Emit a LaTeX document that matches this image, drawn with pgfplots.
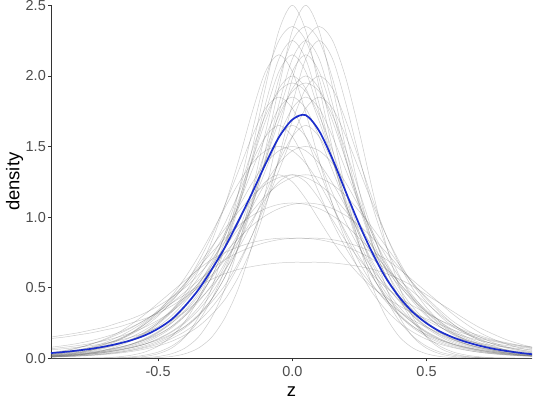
\documentclass[border=0pt]{standalone}
\usepackage{fontspec}
\setmainfont{Liberation Sans}
\usepackage{pgfplots}
\usepackage{pgfplotstable}
\pgfplotsset{compat=1.18}
\definecolor{meanblue}{RGB}{28,46,204}

\pgfplotstableread{
name p0 p1 p2 p3 p4 p5 p6 p7 p8 p9 p10 p11 p12 p13 p14 p15 p16 p17 p18 p19 p20 p21 p22 p23 p24 p25 p26 p27 p28 p29 p30 p31 p32 p33 p34 p35 p36
x -0.90 -0.85 -0.80 -0.75 -0.70 -0.65 -0.60 -0.55 -0.50 -0.45 -0.40 -0.35 -0.30 -0.25 -0.20 -0.15 -0.10 -0.05 0.00 0.05 0.10 0.15 0.20 0.25 0.30 0.35 0.40 0.45 0.50 0.55 0.60 0.65 0.70 0.75 0.80 0.85 0.90
c1 0.013 0.017 0.023 0.031 0.042 0.058 0.08 0.11 0.155 0.215 0.30 0.42 0.58 0.80 1.10 1.48 1.92 2.32 2.50 2.32 1.92 1.48 1.10 0.80 0.58 0.42 0.30 0.215 0.155 0.11 0.08 0.058 0.042 0.031 0.023 0.017 0.013
c2 0.01 0.013 0.017 0.023 0.031 0.042 0.058 0.08 0.11 0.155 0.215 0.30 0.42 0.58 0.80 1.10 1.48 1.92 2.32 2.50 2.32 1.92 1.48 1.10 0.80 0.58 0.42 0.30 0.215 0.155 0.11 0.08 0.058 0.042 0.031 0.023 0.017
c3 0 0 0 0 0 0.001 0.002 0.005 0.013 0.032 0.072 0.15 0.29 0.50 0.80 1.18 1.60 1.98 2.25 2.35 2.25 1.98 1.60 1.18 0.80 0.50 0.29 0.15 0.072 0.032 0.013 0.005 0.002 0.001 0 0 0
c4 0 0 0 0 0.001 0.002 0.005 0.013 0.032 0.072 0.15 0.29 0.50 0.80 1.18 1.60 1.98 2.25 2.35 2.25 1.98 1.60 1.18 0.80 0.50 0.29 0.15 0.072 0.032 0.013 0.005 0.002 0.001 0 0 0 0
c5 0.015 0.02 0.027 0.036 0.048 0.065 0.088 0.12 0.165 0.225 0.31 0.42 0.58 0.79 1.07 1.42 1.80 2.12 2.25 2.12 1.80 1.42 1.07 0.79 0.58 0.42 0.31 0.225 0.165 0.12 0.088 0.065 0.048 0.036 0.027 0.02 0.015
c6 0.011 0.015 0.02 0.027 0.036 0.048 0.065 0.088 0.12 0.165 0.225 0.31 0.42 0.58 0.79 1.07 1.42 1.80 2.12 2.25 2.12 1.80 1.42 1.07 0.79 0.58 0.42 0.31 0.225 0.165 0.12 0.088 0.065 0.048 0.036 0.027 0.02
c7 0.008 0.011 0.015 0.02 0.027 0.036 0.048 0.065 0.088 0.12 0.165 0.225 0.31 0.42 0.58 0.79 1.07 1.42 1.80 2.12 2.25 2.12 1.80 1.42 1.07 0.79 0.58 0.42 0.31 0.225 0.165 0.12 0.088 0.065 0.048 0.036 0.027
c8 0.025 0.032 0.042 0.056 0.075 0.10 0.135 0.185 0.25 0.34 0.46 0.62 0.83 1.09 1.40 1.74 2.03 2.15 2.03 1.74 1.40 1.09 0.83 0.62 0.46 0.34 0.25 0.185 0.135 0.10 0.075 0.056 0.042 0.032 0.025 0.019 0.015
c9 0.015 0.019 0.025 0.032 0.042 0.056 0.075 0.10 0.135 0.185 0.25 0.34 0.46 0.62 0.83 1.09 1.40 1.74 2.03 2.15 2.03 1.74 1.40 1.09 0.83 0.62 0.46 0.34 0.25 0.185 0.135 0.10 0.075 0.056 0.042 0.032 0.025
c10 0.019 0.025 0.032 0.042 0.056 0.075 0.10 0.135 0.185 0.25 0.34 0.46 0.62 0.83 1.09 1.40 1.74 2.03 2.15 2.03 1.74 1.40 1.09 0.83 0.62 0.46 0.34 0.25 0.185 0.135 0.10 0.075 0.056 0.042 0.032 0.025 0.019
c11 0.013 0.017 0.023 0.031 0.041 0.055 0.074 0.10 0.14 0.19 0.26 0.36 0.49 0.66 0.87 1.12 1.40 1.68 1.91 2.00 1.91 1.68 1.40 1.12 0.87 0.66 0.49 0.36 0.26 0.19 0.14 0.10 0.074 0.055 0.041 0.031 0.023
c12 0.017 0.023 0.031 0.041 0.055 0.074 0.10 0.14 0.19 0.26 0.36 0.49 0.66 0.87 1.12 1.40 1.68 1.91 2.00 1.91 1.68 1.40 1.12 0.87 0.66 0.49 0.36 0.26 0.19 0.14 0.10 0.074 0.055 0.041 0.031 0.023 0.017
c13 0.01 0.013 0.017 0.023 0.031 0.041 0.055 0.074 0.10 0.14 0.19 0.26 0.36 0.49 0.66 0.87 1.12 1.40 1.68 1.91 2.00 1.91 1.68 1.40 1.12 0.87 0.66 0.49 0.36 0.26 0.19 0.14 0.10 0.074 0.055 0.041 0.031
c14 0 0 0 0.001 0.002 0.004 0.01 0.022 0.044 0.086 0.155 0.26 0.42 0.63 0.89 1.18 1.47 1.72 1.89 1.95 1.89 1.72 1.47 1.18 0.89 0.63 0.42 0.26 0.155 0.086 0.044 0.022 0.01 0.004 0.002 0.001 0
c15 0 0 0.001 0.002 0.004 0.01 0.022 0.044 0.086 0.155 0.26 0.42 0.63 0.89 1.18 1.47 1.72 1.89 1.95 1.89 1.72 1.47 1.18 0.89 0.63 0.42 0.26 0.155 0.086 0.044 0.022 0.01 0.004 0.002 0.001 0 0
c16 0.029 0.037 0.047 0.06 0.077 0.10 0.13 0.17 0.225 0.30 0.40 0.52 0.68 0.87 1.09 1.33 1.57 1.77 1.85 1.77 1.57 1.33 1.09 0.87 0.68 0.52 0.40 0.30 0.225 0.17 0.13 0.10 0.077 0.06 0.047 0.037 0.029
c17 0.023 0.029 0.037 0.047 0.06 0.077 0.10 0.13 0.17 0.225 0.30 0.40 0.52 0.68 0.87 1.09 1.33 1.57 1.77 1.85 1.77 1.57 1.33 1.09 0.87 0.68 0.52 0.40 0.30 0.225 0.17 0.13 0.10 0.077 0.06 0.047 0.037
c18 0.037 0.047 0.06 0.077 0.10 0.13 0.17 0.225 0.30 0.40 0.52 0.68 0.87 1.09 1.33 1.57 1.77 1.85 1.77 1.57 1.33 1.09 0.87 0.68 0.52 0.40 0.30 0.225 0.17 0.13 0.10 0.077 0.06 0.047 0.037 0.029 0.023
c19 0.018 0.023 0.029 0.037 0.047 0.06 0.077 0.10 0.13 0.17 0.225 0.30 0.40 0.52 0.68 0.87 1.09 1.33 1.57 1.77 1.85 1.77 1.57 1.33 1.09 0.87 0.68 0.52 0.40 0.30 0.225 0.17 0.13 0.10 0.077 0.06 0.047
c20 0.06 0.068 0.078 0.09 0.105 0.125 0.15 0.18 0.22 0.27 0.33 0.41 0.51 0.63 0.78 0.96 1.17 1.39 1.57 1.65 1.57 1.39 1.17 0.96 0.78 0.63 0.51 0.41 0.33 0.27 0.22 0.18 0.15 0.125 0.105 0.09 0.078
c21 0.068 0.078 0.09 0.105 0.125 0.15 0.18 0.22 0.27 0.33 0.41 0.51 0.63 0.78 0.96 1.17 1.39 1.57 1.65 1.57 1.39 1.17 0.96 0.78 0.63 0.51 0.41 0.33 0.27 0.22 0.18 0.15 0.125 0.105 0.09 0.078 0.068
c22 0.015 0.02 0.027 0.037 0.05 0.07 0.095 0.13 0.18 0.25 0.33 0.44 0.57 0.72 0.89 1.07 1.24 1.38 1.47 1.50 1.47 1.38 1.24 1.07 0.89 0.72 0.57 0.44 0.33 0.25 0.18 0.13 0.095 0.07 0.05 0.037 0.027
c23 0.02 0.027 0.037 0.05 0.07 0.095 0.13 0.18 0.25 0.33 0.44 0.57 0.72 0.89 1.07 1.24 1.38 1.47 1.50 1.47 1.38 1.24 1.07 0.89 0.72 0.57 0.44 0.33 0.25 0.18 0.13 0.095 0.07 0.05 0.037 0.027 0.02
c24 0.009 0.014 0.023 0.037 0.057 0.086 0.124 0.175 0.24 0.325 0.42 0.53 0.66 0.79 0.92 1.04 1.15 1.23 1.28 1.30 1.28 1.23 1.15 1.04 0.92 0.79 0.66 0.53 0.42 0.325 0.24 0.175 0.124 0.086 0.057 0.037 0.023
c25 0.014 0.023 0.037 0.057 0.086 0.124 0.175 0.24 0.325 0.42 0.53 0.66 0.79 0.92 1.04 1.15 1.23 1.28 1.30 1.28 1.23 1.15 1.04 0.92 0.79 0.66 0.53 0.42 0.325 0.24 0.175 0.124 0.086 0.057 0.037 0.023 0.014
c26 0.14 0.15 0.165 0.18 0.20 0.22 0.25 0.28 0.32 0.37 0.43 0.50 0.59 0.70 0.83 0.98 1.13 1.25 1.30 1.25 1.13 0.98 0.83 0.70 0.59 0.50 0.43 0.37 0.32 0.27 0.23 0.19 0.16 0.13 0.11 0.09 0.075
c27 0.022 0.03 0.042 0.058 0.08 0.11 0.15 0.20 0.26 0.34 0.43 0.53 0.64 0.75 0.85 0.94 1.01 1.06 1.09 1.10 1.09 1.06 1.01 0.94 0.85 0.75 0.64 0.53 0.43 0.34 0.26 0.20 0.15 0.11 0.08 0.058 0.042
c28 0.03 0.042 0.058 0.08 0.11 0.15 0.20 0.26 0.34 0.43 0.53 0.64 0.75 0.85 0.94 1.01 1.06 1.09 1.10 1.09 1.06 1.01 0.94 0.85 0.75 0.64 0.53 0.43 0.34 0.26 0.20 0.15 0.11 0.08 0.058 0.042 0.03
c29 0.026 0.037 0.052 0.072 0.10 0.135 0.18 0.24 0.31 0.39 0.47 0.55 0.63 0.70 0.75 0.79 0.82 0.84 0.85 0.85 0.85 0.84 0.82 0.79 0.75 0.70 0.63 0.55 0.47 0.39 0.31 0.24 0.18 0.135 0.10 0.072 0.052
c30 0.037 0.052 0.072 0.10 0.135 0.18 0.24 0.31 0.39 0.47 0.55 0.63 0.70 0.75 0.79 0.82 0.84 0.85 0.85 0.85 0.84 0.82 0.79 0.75 0.70 0.63 0.55 0.47 0.39 0.31 0.24 0.18 0.135 0.10 0.072 0.052 0.037
c31 0.04 0.055 0.075 0.10 0.13 0.17 0.215 0.27 0.33 0.39 0.45 0.51 0.56 0.60 0.63 0.65 0.665 0.675 0.68 0.68 0.68 0.675 0.665 0.65 0.63 0.60 0.56 0.51 0.45 0.39 0.33 0.27 0.215 0.17 0.13 0.10 0.075
c32 0 0 0 0 0 0 0.001 0.002 0.005 0.013 0.032 0.072 0.15 0.29 0.50 0.80 1.18 1.60 1.98 2.25 2.35 2.25 1.98 1.60 1.18 0.80 0.50 0.29 0.15 0.072 0.032 0.013 0.005 0.002 0.001 0 0
c33 0.15 0.165 0.18 0.20 0.22 0.25 0.28 0.32 0.37 0.43 0.50 0.59 0.70 0.83 0.98 1.13 1.25 1.30 1.25 1.13 0.98 0.83 0.70 0.59 0.50 0.43 0.37 0.32 0.28 0.24 0.20 0.17 0.14 0.12 0.10 0.085 0.07
c34 0.078 0.09 0.105 0.125 0.15 0.18 0.22 0.27 0.33 0.41 0.51 0.63 0.78 0.96 1.17 1.39 1.57 1.65 1.57 1.39 1.17 0.96 0.78 0.63 0.51 0.41 0.33 0.27 0.22 0.18 0.15 0.125 0.105 0.09 0.078 0.068 0.06
c35 0.027 0.037 0.05 0.07 0.095 0.13 0.18 0.25 0.33 0.44 0.57 0.72 0.89 1.07 1.24 1.38 1.47 1.50 1.47 1.38 1.24 1.07 0.89 0.72 0.57 0.44 0.33 0.25 0.18 0.13 0.095 0.07 0.05 0.037 0.027 0.02 0.015
}\rawcurves
\pgfplotstabletranspose[colnames from=name]{\curves}{\rawcurves}

\begin{document}
\begin{tikzpicture}
\path[use as bounding box] (-51bp,-45.7bp) rectangle (489bp,358.3bp);
\begin{axis}[
  at={(0,0)}, anchor=south west,
  scale only axis, width=481bp, height=353bp,
  xmin=-0.899, xmax=0.893, ymin=0, ymax=2.5,
  axis x line*=bottom, axis y line*=left,
  axis line style={black!80, line width=0.6bp},
  tick style={black!80, line width=0.6bp},
  tick align=outside, major tick length=3bp,
  xtick={-0.5,0,0.5}, ytick={0,0.5,1,1.5,2,2.5},
  /pgf/number format/.cd, fixed, fixed zerofill, precision=1, assume math mode=true,
  /pgfplots/.cd,
  ticklabel style={font=\fontsize{14.5}{17}\selectfont, text=black!70},
  xticklabel style={anchor=north, inner sep=0pt, yshift=-5bp},
  yticklabel style={anchor=east, inner sep=0pt, xshift=-2bp},
  xlabel={z}, ylabel={density},
  label style={font=\fontsize{18.5}{22}\selectfont},
  xlabel style={at={(axis description cs:0.5,-0.108)}, anchor=base},
  ylabel style={at={(axis description cs:-0.0759,0.5)}, anchor=center},
  gc/.style={black!65, opacity=0.3, line width=0.5bp, smooth, no markers},
]
\pgfplotsinvokeforeach{1,...,35}{
  \addplot[gc] table[x=x, y=c#1] {\curves};
}
\addplot[meanblue, line width=1.7bp, smooth, no markers] coordinates {
(-0.899,0.037) (-0.85,0.045) (-0.80,0.055) (-0.75,0.067) (-0.70,0.083)
(-0.65,0.103) (-0.60,0.128) (-0.55,0.162) (-0.50,0.21) (-0.45,0.275)
(-0.40,0.37) (-0.35,0.485) (-0.30,0.63) (-0.25,0.79) (-0.20,0.975)
(-0.15,1.17) (-0.10,1.375) (-0.05,1.565) (0.00,1.69) (0.05,1.722)
(0.10,1.61) (0.15,1.41) (0.20,1.175) (0.25,0.945)
(0.30,0.74) (0.35,0.565) (0.40,0.43) (0.45,0.325) (0.50,0.248)
(0.55,0.19) (0.60,0.147) (0.65,0.114) (0.70,0.088) (0.75,0.067)
(0.80,0.051) (0.85,0.038) (0.893,0.029)
};
\end{axis}
\end{tikzpicture}
\end{document}
